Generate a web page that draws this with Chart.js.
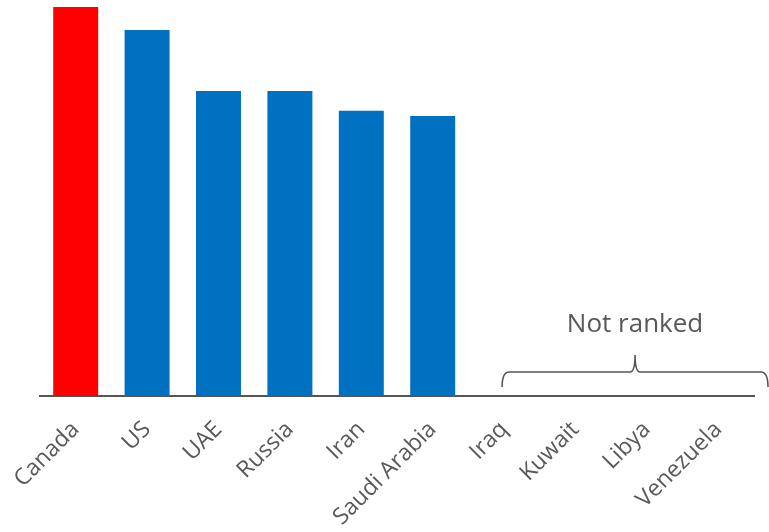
<!DOCTYPE html>
<html>
<head>
<meta charset="utf-8">
<script src="https://cdn.jsdelivr.net/npm/chart.js@4/dist/chart.umd.min.js"></script>
<style>
  html, body { margin: 0; padding: 0; background: #ffffff; }
  #wrap { width: 769px; height: 532px; }
</style>
</head>
<body>
<div id="wrap"><canvas id="chart" width="769" height="532"></canvas></div>
<script>
// Countries along the axis; the last four carry no score
const categories = ['Canada', 'US', 'UAE', 'Russia', 'Iran', 'Saudi Arabia', 'Iraq', 'Kuwait', 'Libya', 'Venezuela'];
const scores = [100, 94.1, 78.4, 78.4, 73.3, 72.0, null, null, null, null];
const barColors = ['#ff0000', '#0070c0', '#0070c0', '#0070c0', '#0070c0', '#0070c0', '#0070c0', '#0070c0', '#0070c0', '#0070c0'];
const unrankedFrom = 6;
const bracketLabel = 'Not ranked';

const inkGray = '#595959';

// Curly bracket over the unscored countries, with its caption
const bracketPlugin = {
  id: 'bracket',
  afterDraw(chart) {
    const { ctx, chartArea, scales } = chart;
    const x0 = scales.x.getPixelForValue(unrankedFrom) - 2;
    const x1 = chartArea.right + 14;
    const mid = (x0 + x1) / 2;
    const base = chartArea.bottom;
    const yEnd = base - 9;
    const yBar = base - 24;
    const yPeak = base - 41;
    ctx.save();
    ctx.strokeStyle = '#555555';
    ctx.lineWidth = 1.6;
    ctx.beginPath();
    ctx.moveTo(x0, yEnd);
    ctx.quadraticCurveTo(x0, yBar, x0 + 7, yBar);
    ctx.lineTo(mid - 5, yBar);
    ctx.quadraticCurveTo(mid, yBar, mid, yPeak);
    ctx.quadraticCurveTo(mid, yBar, mid + 5, yBar);
    ctx.lineTo(x1 - 7, yBar);
    ctx.quadraticCurveTo(x1, yBar, x1, yEnd);
    ctx.stroke();
    ctx.fillStyle = inkGray;
    ctx.font = '26px "Open Sans", sans-serif';
    ctx.textAlign = 'center';
    ctx.textBaseline = 'alphabetic';
    ctx.fillText(bracketLabel, mid, base - 64);
    ctx.restore();
  }
};

new Chart(document.getElementById('chart'), {
  type: 'bar',
  data: {
    labels: categories,
    datasets: [{
      data: scores,
      backgroundColor: barColors,
      borderWidth: 0,
      barPercentage: 0.63,
      categoryPercentage: 1.0
    }]
  },
  options: {
    responsive: false,
    animation: false,
    layout: { padding: { left: 40, right: 15, top: 7, bottom: 0 } },
    plugins: {
      legend: { display: false },
      tooltip: { enabled: false }
    },
    scales: {
      x: {
        grid: { display: false, drawTicks: false },
        border: { display: true, color: '#555555', width: 2 },
        ticks: {
          autoSkip: false,
          minRotation: 45,
          maxRotation: 45,
          padding: 20,
          color: inkGray,
          font: { family: '"Open Sans", sans-serif', size: 23 }
        },
        afterFit(scale) {
          scale.height = 136;
          scale.paddingLeft = 0;
          scale.paddingRight = 0;
        }
      },
      y: {
        display: false,
        min: 0,
        max: 100
      }
    }
  },
  plugins: [bracketPlugin]
});
</script>
</body>
</html>
